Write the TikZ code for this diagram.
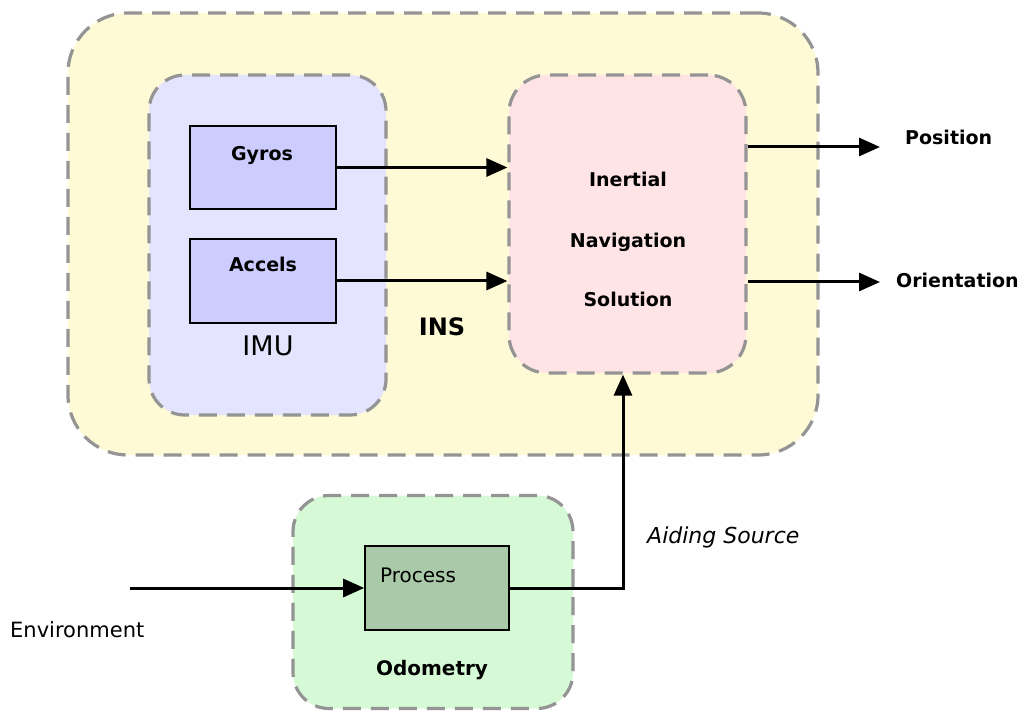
\documentclass[tikz,border=0pt]{standalone}
\usepackage{fontspec}
\setmainfont{DejaVu Sans}
\usetikzlibrary{arrows.meta}
\begin{document}
\begin{tikzpicture}[x=1pt,y=-1pt,
  grp/.style={draw=black!42, line width=3.2pt, dash pattern=on 18pt off 10pt, inner sep=0pt},
  blk/.style={draw=black, line width=1.6pt, inner sep=0pt},
  conn/.style={line width=3pt, -{Triangle[length=21pt,width=18pt]}},
  bl/.style={font=\fontsize{19}{22}\selectfont\bfseries, inner sep=0pt},
  rg/.style={font=\fontsize{20}{24}\selectfont, inner sep=0pt}]
\definecolor{ylw}{RGB}{255,250,214}
\definecolor{lav}{RGB}{228,228,255}
\definecolor{blu}{RGB}{204,204,255}
\definecolor{pnk}{RGB}{255,228,230}
\definecolor{grn}{RGB}{213,250,213}
\definecolor{dgr}{RGB}{169,201,169}
\useasboundingbox (0,0) rectangle (1028,711);
\node[grp, fill=ylw, rounded corners=60pt, minimum width=750pt, minimum height=442pt] (ins) at (443,234) {};
\node[grp, fill=lav, rounded corners=36pt, minimum width=237pt, minimum height=340pt] (imu) at (267.5,245) {};
\node[grp, fill=pnk, rounded corners=38pt, minimum width=237pt, minimum height=298pt] (sol) at (627.5,224) {};
\node[grp, fill=grn, rounded corners=36pt, minimum width=280pt, minimum height=213pt] (odo) at (433,602) {};
\node[blk, fill=blu, minimum width=146pt, minimum height=83pt] (gyros) at (263,167.5) {};
\node[blk, fill=blu, minimum width=146pt, minimum height=84pt] (accels) at (263,281) {};
\node[blk, fill=dgr, minimum width=144pt, minimum height=84pt] (proc) at (437,588) {};
% labels
\node[bl, anchor=base] (tgyros) at (262,161) {Gyros};
\node[bl, anchor=base] (taccels) at (263,272) {Accels};
\node[rg, font=\fontsize{27}{30}\selectfont, anchor=base] (timu) at (268,355) {IMU};
\node[bl, font=\fontsize{24}{28}\selectfont\bfseries, anchor=base] (tins) at (442,335) {INS};
\node[bl, anchor=base] (t1) at (628,187) {Inertial};
\node[bl, anchor=base] (t2) at (628,248) {Navigation};
\node[bl, anchor=base] (t3) at (628,307) {Solution};
\node[bl, anchor=base west] (tpos) at (905,145) {Position};
\node[bl, anchor=base west] (tori) at (896,288) {Orientation};
\node[rg, anchor=base west, font=\fontsize{21}{24}\selectfont] (tenv) at (10,637) {Environment};
\node[rg, anchor=base west] (tproc) at (380,582) {Process};
\node[bl, font=\fontsize{20}{24}\selectfont\bfseries, anchor=base] (todo) at (432,675) {Odometry};
\node[rg, anchor=base west, font=\fontsize{22}{26}\selectfont\itshape] (taid) at (647,543) {Aiding Source};
% coordinates
\coordinate (envstart) at (130,588);
\coordinate (posend) at (880,147);
\coordinate (oriend) at (880,282);
\coordinate (aidx) at (623,373);
% connectors
\draw[conn] (gyros.east) -- (gyros.east -| sol.west);
\draw[conn] (accels.east) -- (accels.east -| sol.west);
\draw[conn] (sol.east |- posend) -- (posend);
\draw[conn] (sol.east |- oriend) -- (oriend);
\draw[conn] (envstart) -- (proc.west);
\draw[conn] (proc.east) -| (aidx |- sol.south);
\end{tikzpicture}
\end{document}
